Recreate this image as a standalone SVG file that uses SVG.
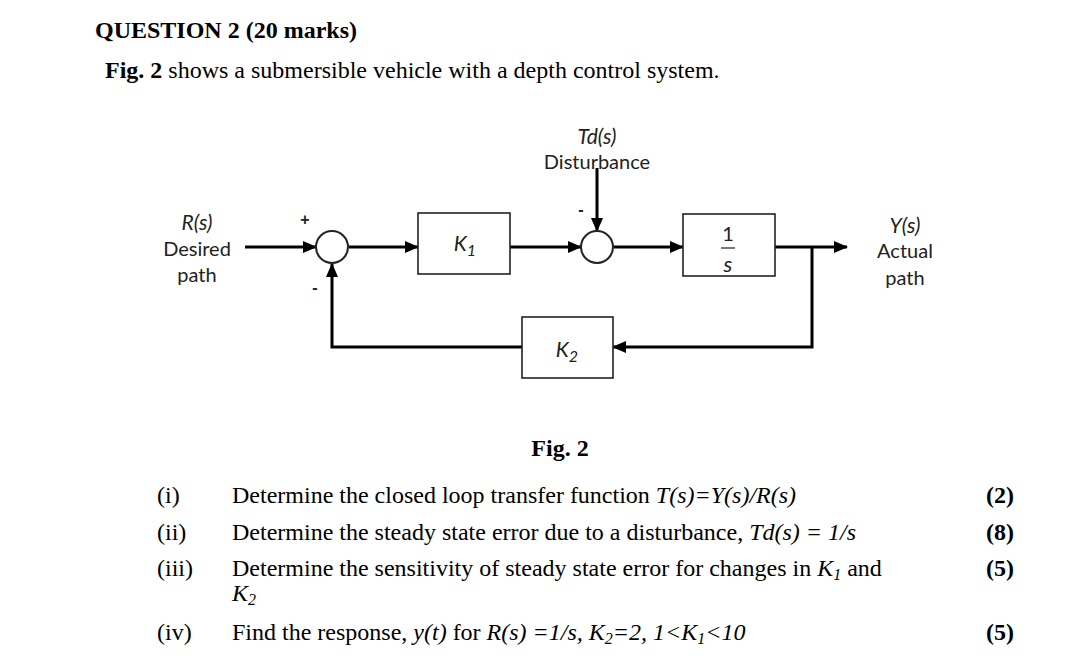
<svg xmlns="http://www.w3.org/2000/svg" width="1078" height="666" viewBox="0 0 1078 666">
<style>
.serif{font-family:"Liberation Serif","Times New Roman",serif;font-size:24px;fill:#000}
.b{font-weight:bold}
.i{font-style:italic}
.sub{font-size:16px}
.lbl{font-family:Lato,"Noto Sans",sans-serif;font-size:20px;fill:#222;text-anchor:middle}
.blk{fill:#fff;stroke:#222;stroke-width:1.6}
.sum{fill:#fff;stroke:#222;stroke-width:2}
.wire{fill:none;stroke:#000;stroke-width:3}
.sign{font-family:"Liberation Sans",Arial,sans-serif;font-size:16px;font-weight:bold;fill:#222;text-anchor:middle}
</style>
<defs>
<marker id="ah" markerUnits="userSpaceOnUse" markerWidth="14" markerHeight="12" refX="13" refY="6" orient="auto">
<path d="M0,0 L14,6 L0,12 z" fill="#000"/>
</marker>
</defs>
<rect width="1078" height="666" fill="#fff"/>

<text class="serif b" x="95" y="38">QUESTION 2 (20 marks)</text>
<text class="serif" x="105" y="78"><tspan class="b">Fig. 2</tspan> shows a submersible vehicle with a depth control system.</text>

<g id="connectors">
<path class="wire" d="M245,247 H316" marker-end="url(#ah)"/>
<path class="wire" d="M349,247 H418" marker-end="url(#ah)"/>
<path class="wire" d="M510,247 H581" marker-end="url(#ah)"/>
<path class="wire" d="M597,168 V231" marker-end="url(#ah)"/>
<path class="wire" d="M613,247 H683" marker-end="url(#ah)"/>
<path class="wire" d="M775,247 H847" marker-end="url(#ah)"/>
<path class="wire" d="M812,247 V347 H613" marker-end="url(#ah)"/>
<path class="wire" d="M522,347 H332 V264" marker-end="url(#ah)"/>
</g>

<g id="input-label">
<text class="lbl i" x="197" y="230" style="font-size:21px">R(s)</text>
<text class="lbl" x="197" y="256">Desired</text>
<text class="lbl" x="197" y="282">path</text>
</g>

<g id="sum1">
<circle class="sum" cx="332" cy="247" r="16"/>
<text class="sign" x="305" y="225">+</text>
<text class="sign" x="315" y="293">-</text>
</g>

<g id="K1">
<rect class="blk" x="418" y="213" width="92" height="61"/>
<text class="lbl i" x="465" y="251" style="font-size:21px">K<tspan class="sub" dy="5">1</tspan></text>
</g>

<g id="disturbance">
<text class="lbl i" x="597" y="144" style="font-size:21px">Td(s)</text>
<text class="lbl" x="597" y="169">Disturbance</text>
</g>

<g id="sum2">
<circle class="sum" cx="597" cy="247" r="16"/>
<text class="sign" x="581" y="215">-</text>
</g>

<g id="plant">
<rect class="blk" x="683" y="214" width="92" height="62"/>
<text class="lbl" x="728" y="241">1</text>
<line x1="721" y1="248" x2="735" y2="248" stroke="#222" stroke-width="1.2"/>
<text class="lbl i" x="728" y="272" style="font-size:22px">s</text>
</g>

<g id="output-label">
<text class="lbl i" x="905" y="233" style="font-size:21px">Y(s)</text>
<text class="lbl" x="905" y="258">Actual</text>
<text class="lbl" x="905" y="285">path</text>
</g>

<g id="K2">
<rect class="blk" x="522" y="317" width="91" height="61"/>
<text class="lbl i" x="567" y="357" style="font-size:21px">K<tspan class="sub" dy="5">2</tspan></text>
</g>

<text class="serif b" x="560" y="456" text-anchor="middle">Fig. 2</text>

<g id="questions">
<text class="serif" x="157" y="503">(i)</text>
<text class="serif" x="232" y="503">Determine the closed loop transfer function <tspan class="i">T(s)=Y(s)/R(s)</tspan></text>
<text class="serif b" x="1014" y="503" text-anchor="end">(2)</text>

<text class="serif" x="157" y="540">(ii)</text>
<text class="serif" x="232" y="540">Determine the steady state error due to a disturbance, <tspan class="i">Td(s) = 1/s</tspan></text>
<text class="serif b" x="1014" y="540" text-anchor="end">(8)</text>

<text class="serif" x="157" y="576">(iii)</text>
<text class="serif" x="232" y="576">Determine the sensitivity of steady state error for changes in <tspan class="i">K</tspan><tspan class="i sub" dy="4">1</tspan><tspan dy="-4"> and</tspan></text>
<text class="serif b" x="1014" y="576" text-anchor="end">(5)</text>
<text class="serif i" x="232" y="601">K<tspan class="sub" dy="4">2</tspan></text>

<text class="serif" x="157" y="640">(iv)</text>
<text class="serif" x="232" y="640">Find the response, <tspan class="i">y(t)</tspan> for <tspan class="i">R(s) =1/s, K</tspan><tspan class="i sub" dy="4">2</tspan><tspan class="i" dy="-4">=2, 1&lt;K</tspan><tspan class="i sub" dy="4">1</tspan><tspan class="i" dy="-4">&lt;10</tspan></text>
<text class="serif b" x="1014" y="640" text-anchor="end">(5)</text>
</g>
</svg>
